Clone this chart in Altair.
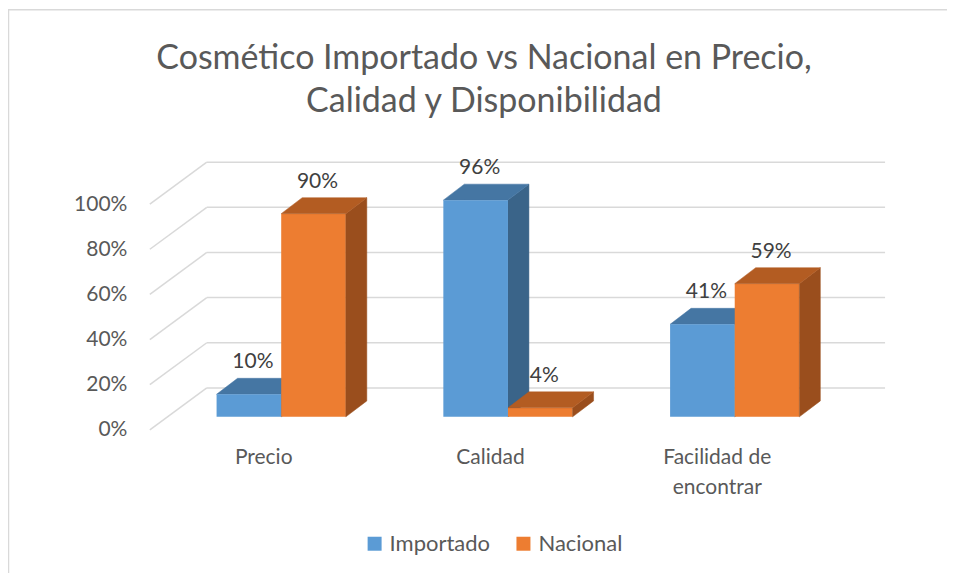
import json
import altair as alt
import pandas as pd

# ---- data -------------------------------------------------------------
categories = ["Precio", "Calidad", "Facilidad de encontrar"]
category_lines = [["Precio"], ["Calidad"], ["Facilidad de", "encontrar"]]
series = ["Importado", "Nacional"]
importado = [0.10, 0.96, 0.41]
nacional = [0.90, 0.04, 0.59]
y_ticks = [0.0, 0.2, 0.4, 0.6, 0.8, 1.0]

# ---- style ------------------------------------------------------------
front_colors = ["#5B9BD5", "#ED7D31"]
top_colors = ["#4576A3", "#B35C22"]
side_colors = ["#3A6489", "#9A4E1D"]
FONT = "Lato"
GRID = "#D9D9D9"
W, H = 681, 226
BAR = 0.285            # bar width in category units (band = 1)
DX = 21 / W * 3        # 3D depth, x (category units)
DY = 16 / H            # 3D depth, y (value units)

values = {"Importado": importado, "Nacional": nacional}

front_rows, top_rows, side_rows, label_rows = [], [], [], []
for s_i, s in enumerate(series):
    for c_i, c in enumerate(categories):
        v = values[s][c_i]
        x0 = c_i + 0.5 - BAR + s_i * BAR
        x1 = x0 + BAR
        bid = f"{s}-{c}"
        front_rows.append(dict(series=s, cat=c, x=x0, x2=x1, y=v, y2=0.0))
        label_rows.append(dict(series=s, cat=c, x=(x0 + x1) / 2, y=v))
        for k, (xx, yy, yy2) in enumerate([(x0, v, v), (x0 + DX, v + DY, v),
                                           (x1, v + DY, v), (x1 + DX, v + DY, v + DY)]):
            top_rows.append(dict(series=s, bid=bid, k=k, x=xx, y=yy, y2=yy2))
        for k, (xx, yy, yy2) in enumerate([(x1, v, 0.0), (x1 + DX, v + DY, DY)]):
            side_rows.append(dict(series=s, bid=bid, k=k, x=xx, y=yy, y2=yy2))

front_df = pd.DataFrame(front_rows)
top_df = pd.DataFrame(top_rows)
side_df = pd.DataFrame(side_rows)
label_df = pd.DataFrame(label_rows)
tick_df = pd.DataFrame({"t": y_ticks})

xscale = alt.Scale(domain=[0, 3], nice=False, zero=False)
yscale = alt.Scale(domain=[0, 1], nice=False)

label_js = json.dumps([l if len(l) > 1 else l[0] for l in category_lines], ensure_ascii=False)

x_axis = alt.Axis(values=[0.5, 1.5, 2.5], labelExpr=f"{label_js}[round(datum.value - 0.5)]",
                  labelOffset=-18, domain=False, ticks=False, grid=False, labelPadding=30,
                  labelFont=FONT, labelFontSize=21, labelColor="#595959", labelLineHeight=30,
                  title=None)
y_axis = alt.Axis(values=y_ticks, format=".0%", labelOffset=13, domain=False, ticks=False,
                  tickSize=0, grid=False, labelPadding=41, labelFont=FONT, labelFontSize=21,
                  labelColor="#595959", title=None)

# chart frame
frame = alt.Chart(pd.DataFrame({"a": [0]})).mark_rect(
    fillOpacity=0, stroke=GRID, strokeWidth=1.5
).encode(x=alt.value(-159.5), x2=alt.value(900), y=alt.value(-181.5), y2=alt.value(700))

back_grid = alt.Chart(tick_df).mark_rule(color=GRID, strokeWidth=1.5, yOffset=-29).encode(
    y=alt.Y("t:Q", scale=yscale, axis=y_axis),
    x=alt.value(39), x2=alt.value(718),
)
slant_grid = alt.Chart(tick_df).mark_rule(color=GRID, strokeWidth=1.5, yOffset=13, y2Offset=-29).encode(
    y=alt.Y("t:Q", scale=yscale), y2=alt.Y2("t"),
    x=alt.value(-18), x2=alt.value(39),
)


def faces(s_i):
    s = series[s_i]
    side = alt.Chart(side_df).transform_filter(alt.datum.series == s).mark_area(
        orient="vertical", color=side_colors[s_i], opacity=1, stroke=side_colors[s_i], strokeWidth=0.5
    ).encode(
        x=alt.X("x:Q", scale=xscale, axis=x_axis), y=alt.Y("y:Q", scale=yscale), y2="y2:Q",
        detail="bid:N",
    )
    top = alt.Chart(top_df).transform_filter(alt.datum.series == s).mark_area(
        orient="vertical", color=top_colors[s_i], opacity=1, stroke=top_colors[s_i], strokeWidth=0.5
    ).encode(
        x=alt.X("x:Q", scale=xscale), y=alt.Y("y:Q", scale=yscale), y2="y2:Q",
        detail="bid:N",
    )
    return side, top


front = alt.Chart(front_df).mark_rect(opacity=1).encode(
    x=alt.X("x:Q", scale=xscale), x2="x2:Q",
    y=alt.Y("y:Q", scale=yscale), y2="y2:Q",
    color=alt.Color("series:N", scale=alt.Scale(domain=series, range=front_colors),
                    legend=alt.Legend(orient="none", legendX=196, legendY=342, direction="horizontal",
                                      title=None, symbolType="square", symbolSize=196,
                                      symbolStrokeWidth=0, symbolOpacity=1, labelFont=FONT,
                                      labelFontSize=22, labelColor="#595959", labelOffset=4,
                                      columnPadding=22)),
)

labels = alt.Chart(label_df).mark_text(
    font=FONT, fontSize=21, color="#404040", baseline="alphabetic", dx=4, dy=-26
).encode(
    x=alt.X("x:Q", scale=xscale), y=alt.Y("y:Q", scale=yscale),
    text=alt.Text("y:Q", format=".0%"),
)

b_side, b_top = faces(0)
o_side, o_top = faces(1)

chart = alt.layer(
    frame, back_grid, slant_grid, b_side, b_top, front, o_side, o_top, labels
).properties(
    width=W, height=H,
    padding={"left": 160, "top": 183, "right": 99, "bottom": 156},
    autosize=alt.AutoSizeParams(type="none"),
    title=alt.Title(["Cosmético Importado vs Nacional en Precio,", "Calidad y Disponibilidad"],
                    font=FONT, fontSize=34, fontWeight="normal", color="#595959",
                    anchor="middle", dx=-24, offset=0, dy=110, lineHeight=43),
).configure_view(strokeWidth=0)

chart.save("out.html", embed_options={"renderer": "svg", "actions": False})
